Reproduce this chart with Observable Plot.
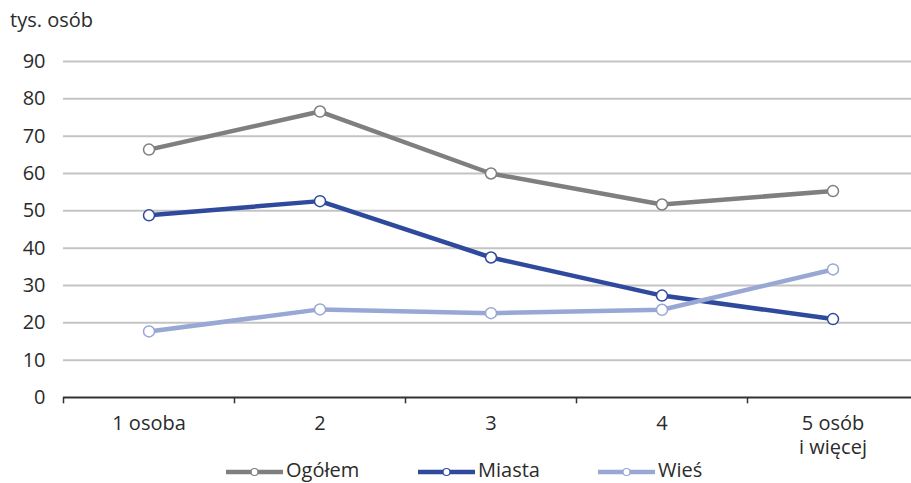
<!DOCTYPE html>
<html><head><meta charset="utf-8">
<script src="https://cdn.jsdelivr.net/npm/d3@7"></script>
<script src="https://cdn.jsdelivr.net/npm/@observablehq/plot@0.6"></script>
<style>
html,body{margin:0;padding:0;background:#fff;}
body{width:911px;height:483px;overflow:hidden;position:relative;font-family:"Open Sans","DejaVu Sans",sans-serif;color:#2b2b2b;}
#unit{position:absolute;left:10px;top:8px;font-size:20px;line-height:24px;color:#2b2b2b;}
#chart{position:absolute;left:0;top:40px;}
#legend{position:absolute;left:0;top:458px;width:911px;height:24px;}
.item{position:absolute;top:0;height:24px;display:flex;align-items:flex-start;font-size:20px;line-height:24px;color:#2b2b2b;}
.item svg{margin-right:3px;display:block;}
</style>
</head><body>
<div id="unit">tys. osób</div>
<div id="chart"></div>
<div id="legend"></div>
<script>
const categories = ["1 osoba", "2", "3", "4", "5 osób\ni więcej"];
const seriesNames = ["Ogółem", "Miasta", "Wieś"];
const seriesColors = ["#7f7f7f", "#2f4a9c", "#98a7d4"];
const ogolem = [66.4, 76.6, 60.0, 51.7, 55.3];
const miasta = [48.8, 52.6, 37.5, 27.3, 21.0];
const wies = [17.7, 23.6, 22.6, 23.5, 34.3];
const yTicks = [0, 10, 20, 30, 40, 50, 60, 70, 80, 90];
const legendLeft = [226, 418, 598];

const seriesValues = [ogolem, miasta, wies];
const rows = [];
seriesNames.forEach((s, k) => seriesValues[k].forEach((v, i) => rows.push({series: s, i, v})));
const boundaries = categories.map((_, i) => i - 0.5);

const marks = [
  Plot.ruleY(yTicks.filter(t => t > 0), {y: d => d, stroke: "#c4c4c4", strokeWidth: 2}),
  Plot.ruleY([0], {y: d => d, stroke: "#333", strokeWidth: 2}),
  Plot.ruleX(boundaries, {x: d => d, y1: 0, y2: -1.7, stroke: "#333", strokeWidth: 1.5}),
  Plot.text(categories, {x: (d, i) => i, y: 0, text: d => d, dy: 15, lineAnchor: "top", lineHeight: 1.22, fontSize: 20, fill: "#2b2b2b"})
];
seriesNames.forEach((s, k) => {
  const data = rows.filter(r => r.series === s);
  marks.push(Plot.line(data, {x: "i", y: "v", stroke: seriesColors[k], strokeWidth: 4.5}));
  marks.push(Plot.dot(data, {x: "i", y: "v", r: 5.5, fill: "white", stroke: seriesColors[k], strokeWidth: 1.5}));
});

const chart = Plot.plot({
  width: 911,
  height: 418,
  marginLeft: 63,
  marginRight: 0,
  marginTop: 21,
  marginBottom: 61,
  style: {fontFamily: "'Open Sans', 'DejaVu Sans', sans-serif", fontSize: "20px", color: "#2b2b2b", background: "white", overflow: "visible"},
  x: {type: "linear", domain: [-0.5, 4.5], range: [63, 918], axis: null},
  y: {domain: [0, 90], ticks: yTicks, tickSize: 0, tickPadding: 18, label: null},
  marks
});
document.getElementById("chart").appendChild(chart);

const legend = document.getElementById("legend");
seriesNames.forEach((s, k) => {
  const it = document.createElement("div");
  it.className = "item";
  it.style.left = legendLeft[k] + "px";
  const c = seriesColors[k];
  it.innerHTML = `<svg width="57" height="24"><line x1="0" x2="57" y1="14" y2="14" stroke="${c}" stroke-width="4.5"/><circle cx="28.5" cy="14" r="3.5" fill="white" stroke="${c}" stroke-width="1.2"/></svg><span>${s}</span>`;
  legend.appendChild(it);
});
</script>
</body></html>
